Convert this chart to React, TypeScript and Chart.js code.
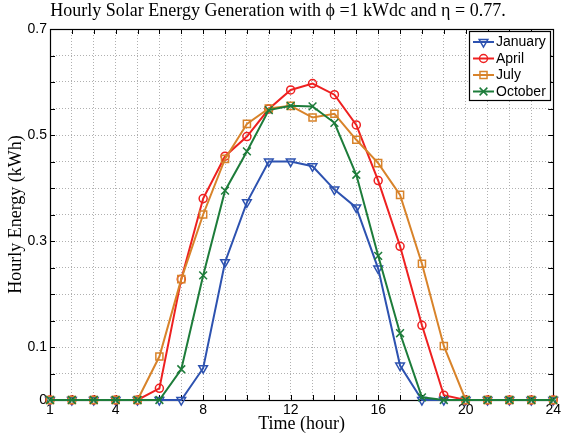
import React, { useEffect, useRef } from 'react';
import { Chart, registerables } from 'chart.js';

Chart.register(...registerables);

const hours = [1, 2, 3, 4, 5, 6, 7, 8, 9, 10, 11, 12, 13, 14, 15, 16, 17, 18, 19, 20, 21, 22, 23, 24];
const january = [0, 0, 0, 0, 0, 0, 0, 0.06, 0.26, 0.373, 0.45, 0.45, 0.441, 0.397, 0.363, 0.248, 0.065, 0, 0, 0, 0, 0, 0, 0];
const april = [0, 0, 0, 0, 0, 0.022, 0.228, 0.38, 0.46, 0.497, 0.549, 0.585, 0.597, 0.576, 0.519, 0.414, 0.29, 0.141, 0.009, 0, 0, 0, 0, 0];
const july = [0, 0, 0, 0, 0, 0.082, 0.228, 0.35, 0.455, 0.521, 0.55, 0.555, 0.533, 0.54, 0.491, 0.447, 0.387, 0.257, 0.102, 0, 0, 0, 0, 0];
const october = [0, 0, 0, 0, 0, 0, 0.058, 0.235, 0.395, 0.469, 0.547, 0.555, 0.554, 0.523, 0.425, 0.272, 0.126, 0.005, 0, 0, 0, 0, 0, 0];
const seriesNames = ['January', 'April', 'July', 'October'];
const xTickLabels = [1, 4, 8, 12, 16, 20, 24];
const yTickLabels = [0, 0.1, 0.3, 0.5, 0.7];

const TITLE = 'Hourly Solar Energy Generation with \u03D5 =1 kWdc and \u03B7 = 0.77.';

function drawMarker(ctx: CanvasRenderingContext2D, style: string, rot: number, cx: number, cy: number, r: number) {
  ctx.beginPath();
  if (style === 'circle') {
    ctx.arc(cx, cy, r, 0, Math.PI * 2);
  } else if (style === 'triangle') {
    const a0 = (rot * Math.PI) / 180;
    for (let i = 0; i < 3; i++) {
      const a = a0 + (i * 2 * Math.PI) / 3;
      const px = cx + Math.sin(a) * r;
      const py = cy - Math.cos(a) * r;
      if (i === 0) ctx.moveTo(px, py);
      else ctx.lineTo(px, py);
    }
    ctx.closePath();
  } else if (style === 'rect') {
    const s = Math.SQRT1_2 * r;
    ctx.rect(cx - s, cy - s, 2 * s, 2 * s);
  } else if (style === 'crossRot') {
    const s = Math.SQRT1_2 * r;
    ctx.moveTo(cx - s, cy - s);
    ctx.lineTo(cx + s, cy + s);
    ctx.moveTo(cx - s, cy + s);
    ctx.lineTo(cx + s, cy - s);
  }
  ctx.stroke();
}

const framePlugin = {
  id: 'matlabFrame',
  beforeDatasetsDraw(chart: any) {
    const { ctx, chartArea } = chart;
    const { left, right, top, bottom } = chartArea;
    const xs = chart.scales.x;
    const ys = chart.scales.y;
    ctx.save();
    ctx.strokeStyle = '#000';
    ctx.lineWidth = 1;
    ctx.beginPath();
    for (const h of hours) {
      const px = Math.round(xs.getPixelForValue(h)) + 0.5;
      ctx.moveTo(px, bottom);
      ctx.lineTo(px, bottom - 5);
      ctx.moveTo(px, top);
      ctx.lineTo(px, top + 5);
    }
    for (const t of ys.ticks) {
      const py = Math.round(ys.getPixelForValue(t.value)) + 0.5;
      ctx.moveTo(left, py);
      ctx.lineTo(left + 5, py);
      ctx.moveTo(right, py);
      ctx.lineTo(right - 5, py);
    }
    ctx.stroke();
    ctx.lineWidth = 1.2;
    ctx.strokeRect(Math.round(left) + 0.5, Math.round(top) + 0.5, Math.round(right - left), Math.round(bottom - top));
    ctx.restore();
  },
};

const legendPlugin = {
  id: 'boxLegend',
  afterDatasetsDraw(chart: any) {
    const { ctx, chartArea } = chart;
    const x0 = Math.round(chartArea.right) - 84;
    const y0 = Math.round(chartArea.top) + 2;
    const w = 81;
    const h = 69;
    ctx.save();
    ctx.fillStyle = '#fff';
    ctx.fillRect(x0, y0, w, h);
    ctx.strokeStyle = '#000';
    ctx.lineWidth = 1.2;
    ctx.strokeRect(x0 + 0.5, y0 + 0.5, w, h);
    ctx.font = '14px "Liberation Sans", Arial, sans-serif';
    ctx.textBaseline = 'middle';
    ctx.textAlign = 'left';
    chart.data.datasets.forEach((ds: any, i: number) => {
      const cy = y0 + 11 + i * 16.5;
      ctx.strokeStyle = ds.borderColor;
      ctx.lineWidth = ds.borderWidth;
      ctx.beginPath();
      ctx.moveTo(x0 + 4, cy);
      ctx.lineTo(x0 + 25, cy);
      ctx.stroke();
      ctx.lineWidth = ds.pointBorderWidth;
      drawMarker(ctx, ds.pointStyle, ds.pointRotation || 0, x0 + 14.5, cy, ds.pointRadius);
      ctx.fillStyle = '#000';
      ctx.fillText(ds.label, x0 + 27, cy + 0.5);
    });
    ctx.restore();
  },
};

export default function App() {
  const canvasRef = useRef<HTMLCanvasElement | null>(null);

  useEffect(() => {
    const canvas = canvasRef.current;
    if (!canvas) return;
    const mk = (values: number[]) => hours.map((h, i) => ({ x: h, y: values[i] }));
    const common = {
      borderWidth: 2,
      pointBorderWidth: 1.5,
      pointBackgroundColor: 'rgba(0,0,0,0)',
      fill: false,
      tension: 0,
      clip: false as const,
    };
    const chart = new Chart(canvas, {
      type: 'line',
      data: {
        datasets: [
          {
            ...common,
            label: seriesNames[0],
            data: mk(january),
            borderColor: '#2d52b0',
            pointBorderColor: '#2d52b0',
            pointStyle: 'triangle',
            pointRotation: 180,
            pointRadius: 5,
            order: 4,
          },
          {
            ...common,
            label: seriesNames[1],
            data: mk(april),
            borderColor: '#ee2020',
            pointBorderColor: '#ee2020',
            pointStyle: 'circle',
            pointRadius: 4,
            order: 3,
          },
          {
            ...common,
            label: seriesNames[2],
            data: mk(july),
            borderColor: '#d8832a',
            pointBorderColor: '#d8832a',
            pointStyle: 'rect',
            pointRadius: 5,
            order: 2,
          },
          {
            ...common,
            label: seriesNames[3],
            data: mk(october),
            borderColor: '#1d7c3a',
            pointBorderColor: '#1d7c3a',
            pointStyle: 'crossRot',
            pointRadius: 5.5,
            order: 1,
          },
        ] as any,
      },
      options: {
        responsive: false,
        animation: false,
        devicePixelRatio: 1,
        layout: { padding: { left: 0, right: 7, top: 0, bottom: 0 } },
        plugins: {
          legend: { display: false },
          tooltip: { enabled: false },
          title: {
            display: true,
            text: TITLE,
            color: '#000',
            font: { family: '"Liberation Serif", "Times New Roman", serif', size: 18, weight: 'normal' },
            padding: { top: 0, bottom: 7.4 },
          },
        },
        scales: {
          x: {
            type: 'linear',
            min: 1,
            max: 24,
            ticks: {
              stepSize: 1,
              autoSkip: false,
              maxRotation: 0,
              color: '#000',
              padding: 2,
              font: { family: '"Liberation Sans", Arial, sans-serif', size: 14 },
              callback: (v: any) => (xTickLabels.includes(Math.round(Number(v))) ? String(Math.round(Number(v))) : ''),
            },
            grid: { color: '#b0b0b0', lineWidth: 1, drawTicks: false },
            border: { display: false, dash: [1, 2] },
            title: {
              display: true,
              text: 'Time (hour)',
              color: '#000',
              font: { family: '"Liberation Serif", "Times New Roman", serif', size: 18 },
              padding: { top: 0, bottom: 5 },
            },
            afterFit: (s: any) => {
              s.height = 40;
            },
          },
          y: {
            type: 'linear',
            min: 0,
            max: 0.7,
            ticks: {
              stepSize: 0.05,
              autoSkip: false,
              color: '#000',
              padding: 3,
              font: { family: '"Liberation Sans", Arial, sans-serif', size: 14 },
              callback: (v: any) => {
                const r = Math.round(Number(v) * 100) / 100;
                return yTickLabels.includes(r) ? String(r) : '';
              },
            },
            grid: { color: '#b0b0b0', lineWidth: 1, drawTicks: false },
            border: { display: false, dash: [1, 2] },
            title: {
              display: true,
              text: 'Hourly Energy (kWh)',
              color: '#000',
              font: { family: '"Liberation Serif", "Times New Roman", serif', size: 18 },
              padding: { top: 5, bottom: 0 },
            },
            afterFit: (s: any) => {
              s.width = 50;
            },
          },
        },
      } as any,
      plugins: [framePlugin, legendPlugin],
    });
    return () => chart.destroy();
  }, []);

  return (
    <div style={{ position: 'fixed', left: 0, top: 0, width: 563, height: 440, background: '#fff' }}>
      <canvas ref={canvasRef} width={563} height={440} style={{ display: 'block' }} />
    </div>
  );
}
